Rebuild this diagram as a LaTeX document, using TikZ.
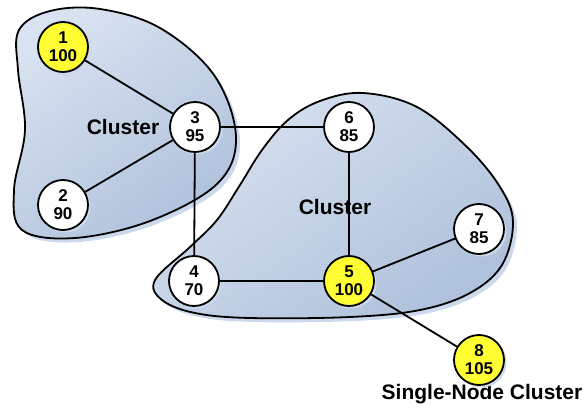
\documentclass[tikz,border=0pt]{standalone}
\usepackage{fontspec}
\setmainfont{Liberation Sans}
\usetikzlibrary{shadows}
\definecolor{blobA}{HTML}{D8E2F0}
\definecolor{blobB}{HTML}{AFC1DB}
\definecolor{shad}{HTML}{CCD8EB}
\definecolor{nodeY}{HTML}{FFFF33}
\tikzset{
  blob/.style={draw=black, line width=1.8pt, top color=blobA, bottom color=blobB, shading angle=35},
  blobshadow/.style={fill=shad, draw=none},
  vnode/.style={circle, draw=black, line width=1.8pt, fill=white, minimum size=50pt, inner sep=0pt,
    align=center, font=\bfseries\fontsize{17}{18}\selectfont,
    drop shadow={shadow xshift=2.5pt, shadow yshift=-2.5pt, fill=shad, opacity=1}},
  hot/.style={vnode, fill=nodeY},
  edge/.style={draw=black, line width=1.8pt},
  lbl/.style={font=\bfseries\fontsize{21}{23}\selectfont, inner sep=0pt}
}
\begin{document}
\begin{tikzpicture}[x=1pt, y=-1pt]
\useasboundingbox (0,0) rectangle (587,412);
% cluster 1
\fill[blobshadow, shift={(4,4)}] plot[smooth cycle, tension=0.6] coordinates {(19,30) (50,11) (100,9) (160,28) (214,75) (236,137) (217,184) (150,221) (75,238) (22,230) (14,190) (25,130) (18,70)};
\path[blob] plot[smooth cycle, tension=0.6] coordinates {(19,30) (50,11) (100,9) (160,28) (214,75) (236,137) (217,184) (150,221) (75,238) (22,230) (14,190) (25,130) (18,70)};
% cluster 2
\fill[blobshadow, shift={(4,4)}] plot[smooth cycle, tension=0.6] coordinates {(155,280) (190,247) (217,220) (240,185) (262,150) (288,120) (320,101) (363,93) (417,107) (467,147) (500,187) (513,222) (502,265) (470,293) (420,310) (350,317) (250,318) (195,313) (162,300)};
\path[blob] plot[smooth cycle, tension=0.6] coordinates {(155,280) (190,247) (217,220) (240,185) (262,150) (288,120) (320,101) (363,93) (417,107) (467,147) (500,187) (513,222) (502,265) (470,293) (420,310) (350,317) (250,318) (195,313) (162,300)};
% labels
\node[lbl] (c1) at (123,127) {Cluster};
\node[lbl] (c2) at (335,207) {Cluster};
\node[lbl] (c3) at (482,394) {Single-Node Cluster};
% nodes
\node[hot]   (n1) at (63,47)   {1\\100};
\node[vnode] (n2) at (63,205)  {2\\90};
\node[vnode] (n3) at (195,127) {3\\95};
\node[vnode] (n6) at (349,127) {6\\85};
\node[vnode] (n7) at (479,229) {7\\85};
\node[vnode] (n4) at (194,281) {4\\70};
\node[hot]   (n5) at (349,281) {5\\100};
\node[hot]   (n8) at (479,360) {8\\105};
% edges
\draw[edge] (n1) -- (n3);
\draw[edge] (n2) -- (n3);
\draw[edge] (n3) -- (n6);
\draw[edge] (n3) -- (n4);
\draw[edge] (n6) -- (n5);
\draw[edge] (n4) -- (n5);
\draw[edge] (n5) -- (n7);
\draw[edge] (n5) -- (n8);
\end{tikzpicture}
\end{document}
